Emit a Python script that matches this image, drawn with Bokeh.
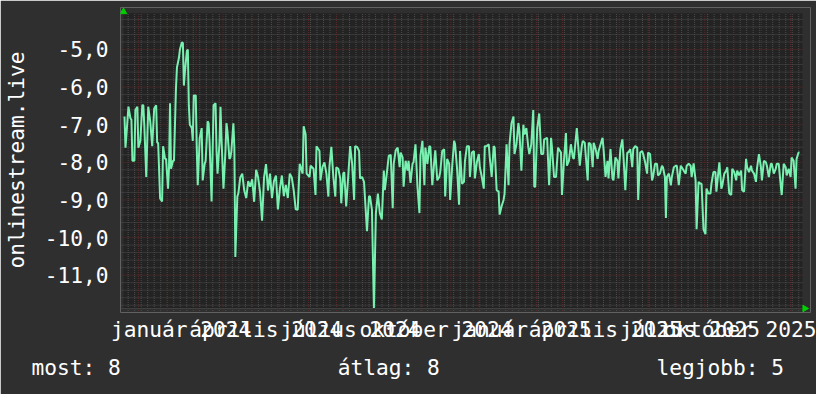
from datetime import date
from bokeh.plotting import figure
from bokeh.models import Range1d, FixedTicker, Title
from bokeh.embed import file_html
from bokeh.resources import INLINE

# ---- data -------------------------------------------------------------
# sample index (one sample = SPAN_DAYS/686 days since START) and value
sample = [1, 2, 3, 5, 7, 8, 9, 11, 12, 14, 15, 17, 19, 20, 21, 23, 24, 25, 27, 29,
          31, 33, 34, 35, 37, 39, 40, 42, 43, 45, 46, 47, 48, 50, 51, 53, 54, 56, 57, 59,
          60, 61, 62, 64, 65, 66, 67, 69, 70, 71, 73, 74, 75, 77, 79, 80, 82, 83, 85, 86,
          87, 89, 91, 93, 94, 95, 97, 98, 99, 101, 103, 104, 105, 107, 108, 109, 111, 112, 113, 115,
          116,
          118, 120, 122, 124, 126, 128, 130, 132, 134, 136, 138, 140, 142, 144, 146, 148, 150, 152, 154, 156,
          158, 160, 162, 164, 166, 168, 170, 172, 174,
          176, 178, 181, 182, 184, 185, 188, 189, 192, 194, 195, 198, 199, 201, 203, 205, 207, 208, 210, 212,
          214, 215, 217, 219, 220, 222, 223, 225, 227, 229, 231, 233, 234, 236, 238, 239, 241, 243, 244, 246,
          248, 249, 251, 253, 255, 257, 259, 261, 263, 264, 266, 268, 270, 272, 273, 275, 277, 279, 280, 282,
          283, 285, 287, 288, 290, 292, 293, 295, 297, 299, 300, 302, 304, 305, 307, 309, 310, 312, 314, 315,
          317, 319, 320, 322, 324, 325, 327, 329, 330, 332, 334, 335, 337, 339, 340, 342, 344, 345, 347, 349,
          350, 352, 354, 355, 357, 359, 360, 362, 364, 365, 367, 369, 370, 372, 374, 375, 377, 379, 380, 382,
          384, 385, 387, 389, 390, 392, 394, 395, 397, 399, 400, 402, 404, 405, 407, 409, 410, 412, 414, 415,
          416, 418, 420, 422, 424, 425, 428, 430, 432, 433, 435, 437, 439, 442, 443, 445, 447, 448, 450, 452,
          454, 455, 458, 459, 461, 463, 464, 466, 469, 470, 472, 474, 475, 477, 479, 480, 482, 484, 485, 487,
          489, 490, 492, 494, 495, 497, 499, 500, 502, 504, 505, 507, 509, 510, 512, 514, 515, 517, 519, 520,
          522, 524, 525, 527, 529, 530, 532, 534, 535, 537, 539, 540, 542, 544, 545, 547, 548, 549, 551, 553,
          554, 556, 558, 559, 561, 563, 564, 566, 568, 569, 571, 573, 574, 576, 578, 579, 581, 583, 584, 586,
          588, 589, 591, 593, 594, 596, 598, 599, 601, 602, 604, 605, 607, 609, 610, 612, 614, 615, 617, 619,
          620, 622, 624, 625, 627, 629, 630, 632, 634, 635, 637, 639, 640, 642, 644, 645, 647, 649, 650, 652,
          654, 655, 657, 659, 660, 662, 664, 665, 667, 669, 670, 672, 674, 675, 677, 679, 680, 682, 683]

value = [-6.78, -7.61, -7.26, -6.52, -6.83, -6.87, -7.96, -7.96, -6.61, -6.52,
         -7.61, -7.43, -6.48, -6.48, -7.0, -8.39, -7.43, -6.52, -6.91, -7.57,
         -6.57, -6.48, -7.48, -7.48, -8.96, -9.04, -7.57, -7.91, -7.91, -8.70,
         -8.13, -6.43, -8.17, -7.96, -7.96, -6.04, -5.48, -5.22, -5.0, -4.81,
         -4.83, -5.96, -5.61, -5.04, -5.0, -6.48, -7.0, -7.09, -7.43, -6.22,
         -6.22, -7.61, -8.61, -7.35, -7.09, -8.48, -8.04, -7.96, -6.91, -6.96,
         -7.48, -9.04, -6.48, -6.43, -7.70, -8.30, -7.48, -6.52, -7.35, -8.70,
         -7.70, -6.96, -7.17, -7.91, -7.87, -7.70, -6.96, -7.61, -10.52, -8.91,
         -8.83,
         -8.40, -8.30, -8.75, -8.95, -8.50, -8.65, -8.45, -9.05, -8.20, -8.40,
         -8.80, -9.55, -8.40, -8.05, -8.75, -8.30, -8.95, -8.50, -8.35, -9.25,
         -8.70, -8.35, -8.90, -8.60, -8.95, -8.30, -8.40, -8.75, -9.25,
         -9.26, -8.04, -8.30, -7.04, -7.26, -8.30, -8.39, -8.09, -8.17, -8.87,
         -7.57, -7.70, -8.48, -8.13, -8.0, -8.30, -8.91, -8.13, -7.59, -8.39,
         -8.91, -8.13, -8.17, -8.43, -9.09, -8.30, -8.26, -9.17, -8.39, -7.57,
         -8.04, -9.0, -7.57, -7.59, -7.70, -8.43, -8.39, -8.52, -8.96, -9.83,
         -8.91, -8.90, -9.26, -11.87, -9.35, -8.83, -9.35, -9.52, -8.22, -8.74,
         -8.30, -7.83, -7.80, -9.22, -8.04, -7.68, -7.61, -8.13, -7.74, -7.87,
         -8.65, -7.96, -8.22, -7.96, -8.55, -8.04, -8.0, -7.52, -8.65, -9.35,
         -7.83, -7.43, -8.61, -7.61, -8.04, -7.57, -7.59, -8.61, -7.96, -7.68,
         -8.48, -8.39, -8.26, -7.70, -7.65, -8.91, -7.91, -8.04, -9.0, -8.13,
         -7.43, -7.52, -8.17, -9.13, -7.70, -8.57, -8.52, -7.96, -7.57, -7.57,
         -8.39, -7.74, -7.70, -8.43, -8.0, -7.78, -8.13, -8.39, -8.70, -7.57,
         -7.57, -7.52, -7.87, -8.39, -7.57, -7.61, -8.74, -8.78, -9.39, -9.17,
         -9.0, -8.83, -7.52, -8.61, -7.52, -6.96, -6.78, -7.78, -7.52, -6.96,
         -7.17, -8.22, -7.0, -7.26, -7.09, -7.61, -7.78, -7.52, -6.61, -8.65,
         -8.65, -7.09, -6.70, -7.78, -7.78, -7.39, -7.35, -8.61, -7.35, -7.65,
         -8.39, -8.39, -7.61, -7.74, -8.87, -7.96, -7.22, -8.09, -7.96, -7.52,
         -7.87, -7.91, -7.09, -7.43, -8.09, -7.57, -7.43, -7.48, -8.48, -7.48,
         -7.52, -8.13, -7.48, -7.65, -7.91, -7.70, -7.52, -7.35, -7.65, -8.39,
         -7.96, -8.43, -7.65, -8.43, -8.48, -7.87, -7.96, -8.43, -7.65, -7.39,
         -7.78, -8.74, -7.74, -7.74, -7.65, -8.13, -7.65, -7.57, -7.61, -9.0,
         -7.74, -7.70, -7.78, -8.0, -8.30, -7.74, -7.78, -8.48, -8.39, -8.04,
         -8.04, -8.35, -8.30, -8.09, -8.13, -8.39, -9.48, -8.39, -8.30, -8.61,
         -8.39, -8.13, -8.09, -8.09, -8.61, -8.09, -8.13, -8.22, -8.30, -8.09,
         -8.04, -8.09, -8.39, -8.03, -8.48, -9.78, -8.52, -8.57, -8.57, -9.78,
         -9.91, -8.70, -8.83, -8.83, -8.57, -8.26, -8.26, -8.78, -8.26, -8.0,
         -8.70, -8.61, -8.30, -8.22, -8.13, -8.83, -8.87, -8.17, -8.26, -8.48,
         -8.22, -8.35, -8.22, -8.74, -8.78, -7.91, -8.13, -8.26, -8.09, -8.22,
         -8.30, -8.52, -8.17, -7.78, -8.13, -8.48, -7.96, -8.0, -8.09, -8.39,
         -8.04, -8.04, -8.30, -8.17, -8.04, -8.04, -8.61, -8.87, -8.04, -8.13,
         -8.35, -8.17, -8.39, -7.87, -7.96, -8.70, -7.91, -7.74, -7.74]

y_ticks = [-11, -10, -9, -8, -7, -6, -5]
y_tick_labels = ["-11,0", "-10,0", "-9,0", "-8,0", "-7,0", "-6,0", "-5,0"]

x_label_dates = [date(2024, 1, 16), date(2024, 4, 16), date(2024, 7, 16), date(2024, 10, 16),
                 date(2025, 1, 16), date(2025, 4, 16), date(2025, 7, 16), date(2025, 10, 16)]
x_label_texts = ["január 2024", "április 2024", "július 2024", "október 2024",
                 "január 2025", "április 2025", "július 2025", "október 2025"]

stat_texts = ["most: 8", "átlag: 8", "legjobb: 5"]
stat_columns = [0, 24, 49]          # monospace column where each statistic starts
y_title = "onlinestream.live"

# ---- scales -----------------------------------------------------------
START = date(2023, 11, 15)
SPAN_DAYS = 730
DAYS_PER_SAMPLE = SPAN_DAYS / 686.0
Y_MIN, Y_MAX = -11.887, -4.035          # graph canvas
PX_X = 679.0 / SPAN_DAYS                # pixels per day
PX_Y = 37.57                            # pixels per unit

# the frame is a few pixels larger than the graph canvas so the axis arrows fit
X0, X1 = -3.0 / PX_X, SPAN_DAYS + 8.0 / PX_X
Y0, Y1 = Y_MIN - 4.0 / PX_Y, Y_MAX + 5.7 / PX_Y

xs = [s * DAYS_PER_SAMPLE for s in sample]


def day(d):
    return (d - START).days


month_days = []
y, m = 2023, 12
while day(date(y, m, 1)) <= SPAN_DAYS:
    month_days.append(day(date(y, m, 1)))
    m += 1
    if m > 12:
        m, y = 1, y + 1
week_days = list(range(5, SPAN_DAYS + 1, 7))   # Mondays, first one 2023-11-20
minor_y = [round(-11.8 + 0.2 * i, 1) for i in range(39) if round(-11.8 + 0.2 * i, 1) % 1 != 0]
label_pos = [day(d) for d in x_label_dates]

FONT = "DejaVu Sans Mono"
FS = "21.2px"
BG = "#2f2f2f"
CANVAS = "#232323"
MINOR = "#4e4e4e"
MAJOR = "#5e2a2a"
GREEN = "#00d000"

p = figure(width=816, height=394, output_backend="svg", toolbar_location=None,
           x_range=Range1d(X0, X1), y_range=Range1d(Y0, Y1),
           min_border_left=120, min_border_right=6, min_border_top=7, min_border_bottom=82)
p.background_fill_color = BG
p.border_fill_color = BG
p.outline_line_color = None
p.grid.visible = False

# graph canvas
p.quad(left=[0], right=[SPAN_DAYS], bottom=[Y_MIN], top=[Y_MAX], fill_color=CANVAS, line_color=None)

# grid: grey minor (weeks / 0.2), red major (months / 1.0)
tick_len = 2.5 / PX_Y
p.segment(x0=week_days, y0=[Y_MIN - tick_len] * len(week_days), x1=week_days, y1=[Y_MAX] * len(week_days),
          line_color=MINOR, line_width=1, line_dash="1 1")
p.segment(x0=[-2.0 / PX_X] * len(minor_y), y0=minor_y, x1=[SPAN_DAYS] * len(minor_y), y1=minor_y,
          line_color=MINOR, line_width=1, line_dash="1 1")
p.segment(x0=month_days, y0=[Y_MIN - tick_len] * len(month_days), x1=month_days, y1=[Y_MAX] * len(month_days),
          line_color=MAJOR, line_width=1, line_dash="1 1")
p.segment(x0=[-2.0 / PX_X] * len(y_ticks), y0=y_ticks, x1=[SPAN_DAYS] * len(y_ticks), y1=y_ticks,
          line_color=MAJOR, line_width=1, line_dash="1 1")
# x axis line
p.segment(x0=[X0], y0=[Y_MIN], x1=[SPAN_DAYS], y1=[Y_MIN], line_color="#404040", line_width=1)

# data
p.line(xs, value, line_color="#78f0b0", line_width=2)

# arrows at the axis ends
p.scatter(x=[0], y=[Y_MAX + 1.4 / PX_Y], marker="triangle", size=6.5,
          fill_color=GREEN, line_color=GREEN)
p.scatter(x=[SPAN_DAYS + 2.3 / PX_X], y=[Y_MIN], marker="triangle", size=6.5, angle=-1.5708,
          fill_color=GREEN, line_color=GREEN)

# axes
xa = p.xaxis[0]
xa.ticker = FixedTicker(ticks=label_pos)
xa.major_label_overrides = {pos: txt for pos, txt in zip(label_pos, x_label_texts)}
xa.major_tick_line_color = None
xa.minor_tick_line_color = None
xa.axis_line_color = None
xa.major_label_standoff = -2
xa.major_label_text_font = FONT
xa.major_label_text_font_size = FS
xa.major_label_text_color = "white"

ya = p.yaxis[0]
ya.ticker = FixedTicker(ticks=y_ticks)
ya.major_label_overrides = {t: s for t, s in zip(y_ticks, y_tick_labels)}
ya.major_tick_line_color = None
ya.minor_tick_line_color = None
ya.major_tick_out = 0
ya.axis_line_color = None
ya.major_label_standoff = 12
ya.major_label_text_font = FONT
ya.major_label_text_font_size = FS
ya.major_label_text_color = "white"
ya.axis_label = y_title
ya.axis_label_text_font = FONT
ya.axis_label_text_font_size = FS
ya.axis_label_text_font_style = "normal"
ya.axis_label_text_color = "white"
ya.axis_label_standoff = 13

# bottom statistics line (monospace columns)
NBSP = "\u00a0"
line_txt = ""
for col, txt in zip(stat_columns, stat_texts):
    line_txt += NBSP * (col - len(line_txt)) + txt
stats = Title(text=line_txt, align="left", offset=-89, standoff=16,
              text_font=FONT, text_font_size=FS, text_font_style="normal", text_color="white")
p.add_layout(stats, "below")

open("out.html", "w").write(file_html(p, INLINE))
